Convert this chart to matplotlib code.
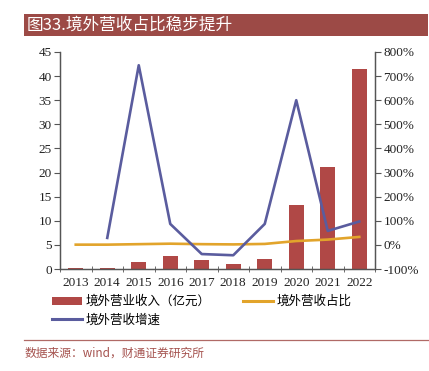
import numpy as np
import matplotlib.pyplot as plt
from matplotlib.patches import Rectangle, Patch
from matplotlib.lines import Line2D

plt.rcParams["font.family"] = ["Noto Sans CJK SC", "DejaVu Sans"]

years = ["2013", "2014", "2015", "2016", "2017", "2018", "2019", "2020", "2021", "2022"]
revenue = [0.3, 0.3, 1.45, 2.6, 1.9, 1.0, 2.0, 13.2, 21.1, 41.5]          # 亿元
share = [1, 1, 3, 5, 3, 2, 4, 16, 22, 33]                                  # %
growth = [np.nan, 29, 745, 87, -38, -43, 87, 600, 58, 97]                  # %

bar_color = "#B04846"
share_color = "#E2A42B"
growth_color = "#5A5C9E"
title_color = "#9C4A46"
tick_font = "Liberation Serif"

fig = plt.figure(figsize=(4.29, 3.71), dpi=100)

# title bar
fig.patches.append(Rectangle((24 / 429, 1 - 36 / 371), 404 / 429, 22 / 371,
                             transform=fig.transFigure, facecolor=title_color,
                             edgecolor="none"))
fig.text(27 / 429, 1 - 25 / 371, "图33.境外营收占比稳步提升", color="white",
         fontsize=12, va="center", ha="left")

ax = fig.add_axes([60 / 429, 1 - 269 / 371, 315 / 429, 217 / 371])
ax2 = ax.twinx()

x = np.arange(len(years))
ax.bar(x, revenue, width=0.48, color=bar_color, zorder=2)
ax2.plot(x, share, color=share_color, lw=1.9, zorder=3)
ax2.plot(x, growth, color=growth_color, lw=1.9, zorder=4)

ax.set_xlim(-0.5, len(years) - 0.5)
ax.set_ylim(0, 45)
ax.set_yticks(range(0, 46, 5))
ax2.set_ylim(-100, 800)
ax2.set_yticks(range(-100, 801, 100))
ax2.set_yticklabels([f"{v}%" for v in range(-100, 801, 100)])

ax.set_xticks(x)
ax.set_xticklabels(years)
ax.set_xticks(np.arange(-0.5, len(years), 1), minor=True)
ax.tick_params(axis="x", which="major", length=0, pad=6)
ax.tick_params(axis="x", which="minor", length=5, direction="inout", color="#555555")
ax.tick_params(axis="y", length=4, direction="out", color="#555555", pad=2)
ax2.tick_params(axis="y", length=4, direction="out", color="#555555", pad=2)

for a in (ax, ax2):
    a.spines["top"].set_visible(False)
    for s in ("left", "right", "bottom"):
        a.spines[s].set_color("#555555")
        a.spines[s].set_linewidth(0.9)
    for lab in a.get_xticklabels() + a.get_yticklabels():
        lab.set_fontfamily(tick_font)
        lab.set_fontsize(9.5)
        lab.set_color("#222222")

handles = [
    Patch(facecolor=bar_color, edgecolor="none"),
    Line2D([], [], color=growth_color, lw=2.2),
    Line2D([], [], color=share_color, lw=2.2),
]
labels = ["境外营业收入（亿元）", "境外营收增速", "境外营收占比"]
fig.legend(handles, labels, loc="upper left", bbox_to_anchor=(52 / 429, 1 - 295 / 371),
           ncol=2, frameon=False, fontsize=9, handlelength=2.4, handleheight=0.6,
           columnspacing=2.6, handletextpad=0.3, labelspacing=0.45, borderpad=0,
           borderaxespad=0)

# separator and source
fig.add_artist(Line2D([24 / 429, 1.0], [1 - 340 / 371, 1 - 340 / 371],
                      transform=fig.transFigure, color="#B06A66", lw=0.9))
fig.text(25 / 429, 1 - 353 / 371, "数据来源：wind，财通证券研究所", color="#A5524E",
         fontsize=8.5, va="center", ha="left")

fig.savefig("out.png", dpi=100)
